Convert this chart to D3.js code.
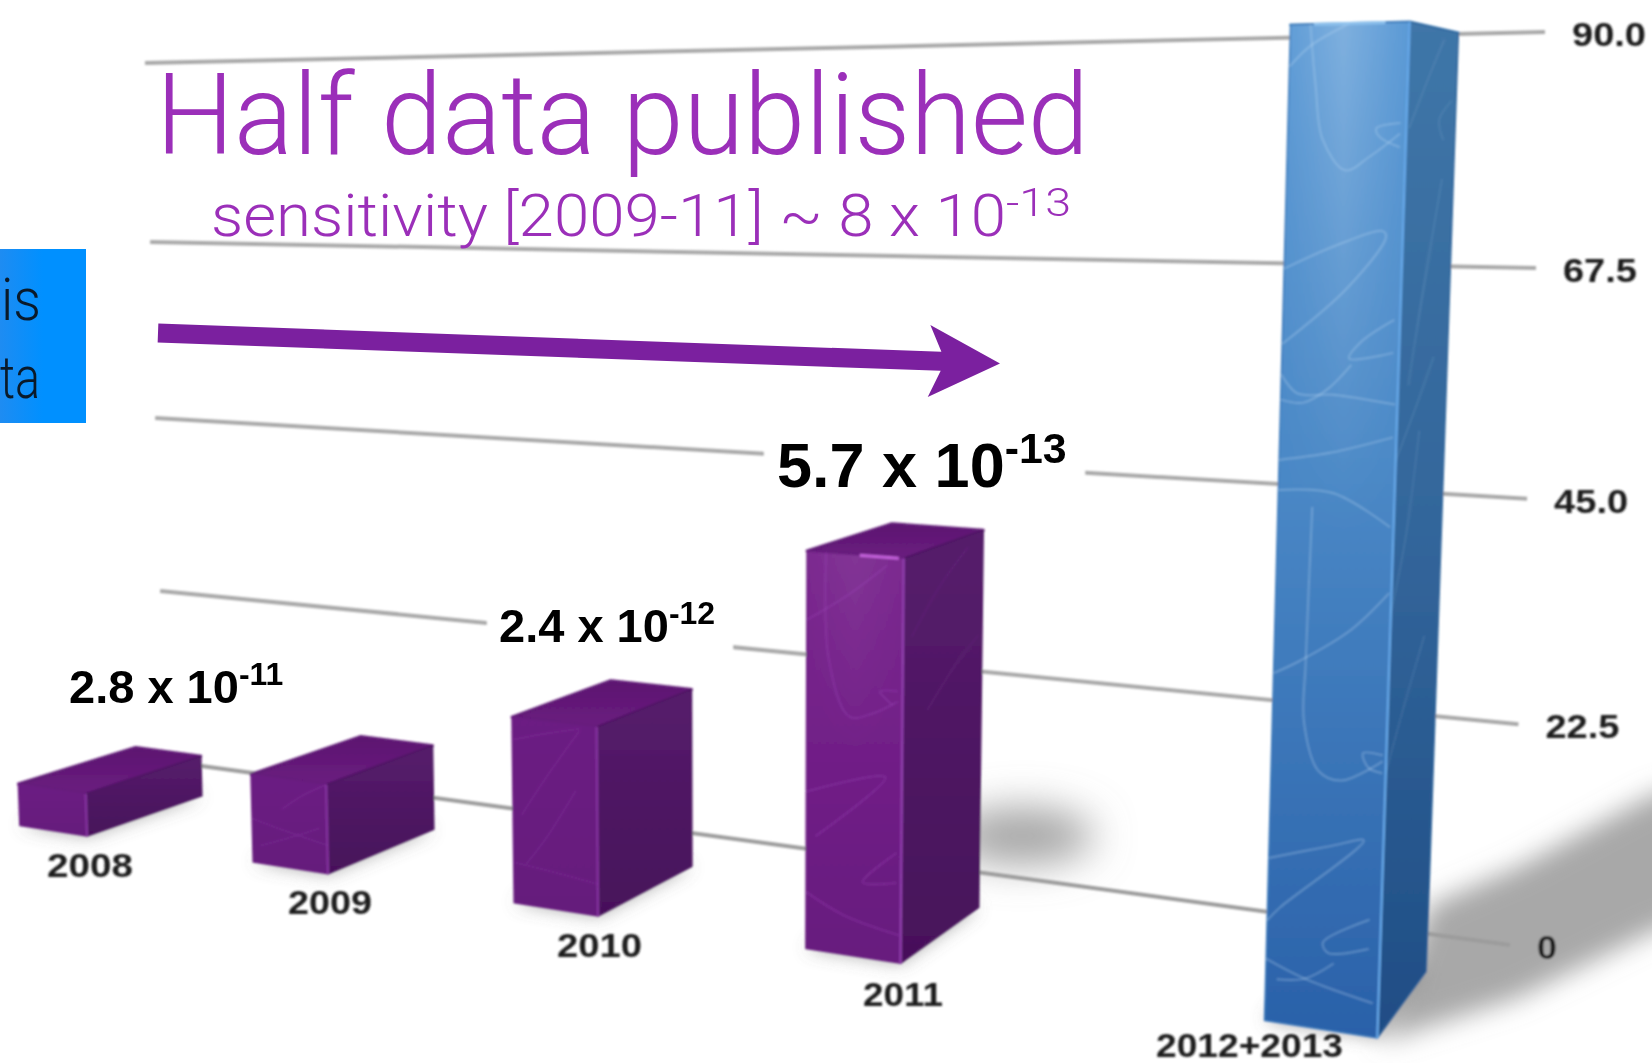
<!DOCTYPE html>
<html>
<head>
<meta charset="utf-8">
<title>Data published per year</title>
<script src="https://cdnjs.cloudflare.com/ajax/libs/d3/7.8.5/d3.min.js"></script>
<style>
  html, body { margin: 0; padding: 0; background: #fff; overflow: hidden; }
  svg { display: block; }
  text { font-family: "Liberation Sans", Arial, sans-serif; }
</style>
</head>
<body>
<svg id="chart" width="1652" height="1063"></svg>
<script>
// ---- chart values ----
const categories = ["2008", "2009", "2010", "2011", "2012+2013"];
const values = [5, 10, 20, 40, 89.5];
const yTicks = [0, 22.5, 45, 67.5, 90];
const yTickLabels = ["0", "22.5", "45.0", "67.5", "90.0"];
const sensitivityBase = ["2.8 x 10", "2.4 x 10", "5.7 x 10"];
const sensitivityExp = ["-11", "-12", "-13"];

// ---- scene geometry ----
const W = 1652, H = 1063;
// Back wall corners on screen: u runs along the wall, v up the value axis.
const wall = { bl: [165, 761], br: [1510, 945], tl: [145, 63], tr: [1545, 32] };
const depthVanish = [2024, 160];       // vanishing point of lines leaving the wall
const barHalfWidth = 0.03, depthNear = 0.089, depthFar = 0.033;

const yScale = d3.scaleLinear().domain([0, 90]).range([0, 1]);
const uScale = d3.scaleOrdinal().domain(categories).range([0.0634, 0.264, 0.465, 0.665, 0.9365]);
const barFill = d3.scaleOrdinal().domain(categories)
  .range(["purple", "purple", "purple", "purple", "blue"]);

// Projective map of the wall plane, extended with a depth column.
function buildProjection({ bl, br, tl, tr }) {
  const dx1 = br[0] - tr[0], dx2 = tl[0] - tr[0], sx = bl[0] - br[0] + tr[0] - tl[0];
  const dy1 = br[1] - tr[1], dy2 = tl[1] - tr[1], sy = bl[1] - br[1] + tr[1] - tl[1];
  const den = dx1 * dy2 - dx2 * dy1;
  const g = (sx * dy2 - dx2 * sy) / den;
  const h = (dx1 * sy - sx * dy1) / den;
  const a = br[0] - bl[0] + g * br[0], b = tl[0] - bl[0] + h * tl[0], c = bl[0];
  const d = br[1] - bl[1] + g * br[1], e = tl[1] - bl[1] + h * tl[1], f = bl[1];
  return (u, v, z = 0) => {
    const w = 1 + g * u + h * v - z;
    return [(a * u + b * v + c - depthVanish[0] * z) / w,
            (d * u + e * v + f - depthVanish[1] * z) / w];
  };
}
const project = buildProjection(wall);

const svg = d3.select("#chart");
const defs = svg.append("defs");

function blurFilter(id, dev) {
  defs.append("filter").attr("id", id)
    .attr("x", "-100%").attr("y", "-150%").attr("width", "300%").attr("height", "400%")
    .append("feGaussianBlur").attr("stdDeviation", dev);
}
defs.append("filter").attr("id", "soft")
  .attr("filterUnits", "userSpaceOnUse").attr("x", 0).attr("y", 0).attr("width", W).attr("height", H)
  .append("feGaussianBlur").attr("stdDeviation", 0.85);
blurFilter("halo", 9);
blurFilter("castWide", 13);
blurFilter("castOval", 20);

function linearGradient(id, horizontal, stops) {
  const g = defs.append("linearGradient").attr("id", id)
    .attr("x1", 0).attr("y1", 0)
    .attr("x2", horizontal ? 1 : 0).attr("y2", horizontal ? 0 : 1);
  stops.forEach(([o, c, a]) => g.append("stop").attr("offset", o)
    .attr("stop-color", c).attr("stop-opacity", a === undefined ? 1 : a));
}
linearGradient("blue-front", false, [[0, "#5b9ad6"], [0.45, "#4a88c6"], [1, "#2a61a9"]]);
linearGradient("blue-side", false, [[0, "#3f76a8"], [0.5, "#33669b"], [1, "#1f4d85"]]);
linearGradient("blue-top", false, [[0, "#3f78ad"], [1, "#5a9ad6"]]);
linearGradient("purple-front", false, [[0, "#6c1d83"], [1, "#651a7c"]]);
linearGradient("purple-front-tall", false, [[0, "#7c2a90"], [0.5, "#711f87"], [1, "#671a7e"]]);
linearGradient("purple-side", false, [[0, "#561d6c"], [1, "#47115a"]]);
linearGradient("purple-top", false, [[0, "#5c1870"], [1, "#6b1b80"]]);
linearGradient("sheen", true, [[0, "#fff", 0], [0.5, "#fff", 0.22], [1, "#fff", 0]]);
linearGradient("sheenFade", false, [[0, "#fff", 1], [1, "#fff", 0]]);
linearGradient("boxFill", true, [[0, "#1e8cf2"], [0.5, "#0090ff"], [1, "#0090ff"]]);
defs.append("mask").attr("id", "sheenMask").attr("maskContentUnits", "objectBoundingBox")
  .append("rect").attr("width", 1).attr("height", 1).attr("fill", "url(#sheenFade)");

const edgeGlow = { blue: "#6eb2f2", purple: "#9a48b8" };

// Faint scribbled texture on the bar faces, as [s across the face, t down the face].
const frontScribbles = {
  "2012+2013": [
    [[0, .04], [.18, .02], [.5, 0]],
    [[.17, 0], [.23, .06], [.3, .11], [.5, .14], [.7, .127], [.95, .105]],
    [[.95, .118], [.78, .108], [.75, .1], [.95, .095]],
    [[0, .236], [.43, .213], [.83, .198], [.86, .203], [.55, .253], [0, .31]],
    [[.95, .283], [.68, .305], [.58, .322], [.95, .315]],
    [[0, .34], [.14, .358], [.45, .358], [.98, .365]],
    [[0, .365], [.2, .367], [.4, .353], [.6, .328]],
    [[0, .425], [.45, .415], [.97, .397]],
    [[0, .455], [.48, .455], [.97, .485]],
    [[.3, .47], [.28, .626], [.28, .687], [.42, .735], [.62, .742], [.97, .718]],
    [[.97, .712], [.8, .712], [.85, .726], [.97, .73]],
    [[0, .64], [.23, .625], [.66, .59], [.98, .55]],
    [[0, .83], [.54, .81], [.83, .8], [.11, .88], [0, .895]],
    [[.9, .88], [.5, .91], [.55, .92], [.9, .91]],
    [[0, .935], [.35, .95], [.95, .965]],
    [[.1, .955], [.35, .95], [.6, .93]]
  ],
  "2011": [
    [[0, .17], [.43, .1], [.83, .02]],
    [[.2, 0], [.23, .26], [.45, .4], [.7, .385], [.95, .35]],
    [[.95, .325], [.77, .33], [.9, .36]],
    [[0, .6], [.83, .54], [.1, .71]],
    [[.95, .725], [.6, .81], [.95, .8]],
    [[0, .855], [.4, .9], [.98, .93]]
  ],
  "2010": [
    [[0, .12], [.45, .06], [.8, .02]],
    [[.8, .03], [.4, .3], [.1, .52]],
    [[0, .78], [.45, .8], [1, .83]],
    [[.75, .35], [.4, .62], [.15, .78]]
  ],
  "2009": [
    [[.4, .35], [.7, .15], [1, 0]],
    [[0, .5], [.4, .58], [1, .68]],
    [[.1, .8], [.6, .62], [.9, .5]]
  ]
};
const sideScribbles = {
  "2012+2013": [
    [[.05, .1], [.4, .05], [.7, .01]],
    [[.75, .11], [.65, .09], [.9, .07]],
    [[.3, .31], [.55, .22], [.75, .15], [.4, .27], [.2, .35]],
    [[.0, .42], [.4, .37], [.7, .33]],
    [[.0, .57], [.25, .5], [.45, .4]],
    [[.0, .73], [.3, .68], [.7, .62]]
  ],
  "2011": [[[.1, .2], [.45, .1], [.8, .03]], [[.3, .4], [.65, .32], [.95, .27]]]
};

const scribbleLine = d3.line().curve(d3.curveCatmullRom.alpha(0.5));

// Screen placement of the cast shadows and of the category captions.
const wideShadow = [[1380, 1042], [1430, 905], [1520, 866], [1652, 795], [1720, 775], [1720, 905], [1652, 932], [1517, 998]];
const ovalShadow = { cx: 1022, cy: 836, rx: 72, ry: 28 };
const captionAnchors = [[47, 877, 86], [288, 914, 84], [557, 957, 85], [863, 1006, 80], [1156, 1057, 187]];
const valueLabels = [
  { cat: "2008", x: 69, y: 703, size: 47, gap: null },
  { cat: "2010", x: 499, y: 642, size: 47, gap: [487, 612, 246, 50] },
  { cat: "2011", x: 777, y: 487, size: 63, gap: [764, 432, 321, 66] }
];

// ---- blue side panel at the left edge ----
const panel = svg.append("g");
panel.append("rect").attr("x", 0).attr("y", 249).attr("width", 86).attr("height", 174).attr("fill", "url(#boxFill)");
panel.append("text").attr("x", 1).attr("y", 320).attr("textLength", 40).attr("lengthAdjust", "spacingAndGlyphs")
  .attr("font-size", 60).attr("fill", "#0a1a2a").style("font-family", "Roboto").style("font-weight", 300).text("is");
panel.append("text").attr("x", 0).attr("y", 398).attr("textLength", 40).attr("lengthAdjust", "spacingAndGlyphs")
  .attr("font-size", 60).attr("fill", "#0a1a2a").style("font-family", "Roboto").style("font-weight", 300).text("ta");

// ---- the soft chart layer ----
const chart = svg.append("g").attr("filter", "url(#soft)");

chart.append("path").attr("d", d3.line()(wideShadow) + "Z").attr("fill", "#a8a8a8").attr("filter", "url(#castWide)");
chart.append("ellipse").attr("cx", ovalShadow.cx).attr("cy", ovalShadow.cy)
  .attr("rx", ovalShadow.rx).attr("ry", ovalShadow.ry).attr("fill", "#a2a2a2").attr("filter", "url(#castOval)");

// Gridlines, one per axis tick, running the length of the wall.
chart.append("g").selectAll("line").data(yTicks).join("line")
  .each(function (t) {
    const v = yScale(t), p0 = project(0, v), p1 = project(1, v);
    d3.select(this).attr("x1", p0[0]).attr("y1", p0[1]).attr("x2", p1[0]).attr("y2", p1[1]);
  })
  .attr("stroke", t => t === 0 ? "#9c9c9c" : "#a9a9a9").attr("stroke-width", 4);

chart.append("g").selectAll("text").data(yTicks).join("text")
  .each(function (t, i) {
    const p = project(1, yScale(t));
    d3.select(this).attr("x", p[0] + 27).attr("y", p[1] + 14)
      .attr("textLength", yTickLabels[i].length === 1 ? 20 : 74)
      .attr("lengthAdjust", "spacingAndGlyphs").text(yTickLabels[i]);
  })
  .attr("font-size", 34).attr("font-weight", 700).attr("fill", "#1e1e1e");

// White plates keep the gridlines away from the value labels.
chart.append("g").selectAll("rect").data(valueLabels.filter(d => d.gap)).join("rect")
  .attr("x", d => d.gap[0]).attr("y", d => d.gap[1]).attr("width", d => d.gap[2]).attr("height", d => d.gap[3])
  .attr("fill", "#fff");

// ---- bars ----
const poly = pts => d3.line()(pts) + "Z";
categories.forEach((cat, i) => {
  const family = barFill(cat);
  const tall = values[i] > 30;
  const vTop = yScale(values[i]);
  const u0 = uScale(cat) - barHalfWidth, u1 = uScale(cat) + barHalfWidth;
  const g = chart.append("g").attr("class", "bar");

  const footprint = [project(u0, 0, depthNear), project(u1, 0, depthNear), project(u1, 0, depthFar), project(u0, 0, depthFar)];
  g.append("path").attr("d", poly(footprint)).attr("fill", "#777").attr("opacity", 0.6).attr("filter", "url(#halo)");

  const frontPt = (s, t) => project(u0 + s * (u1 - u0), vTop * (1 - t), depthNear);
  const sidePt = (s, t) => project(u1, vTop * (1 - t), depthNear + s * (depthFar - depthNear));
  const topFace = [project(u0, vTop, depthNear), project(u1, vTop, depthNear), project(u1, vTop, depthFar), project(u0, vTop, depthFar)];
  const frontFace = [frontPt(0, 0), frontPt(1, 0), frontPt(1, 1), frontPt(0, 1)];
  const sideFace = [sidePt(0, 0), sidePt(1, 0), sidePt(1, 1), sidePt(0, 1)];

  g.append("path").attr("d", poly(topFace)).attr("fill", `url(#${family}-top)`)
    .attr("stroke", family === "blue" ? "#4a86bd" : "#601a76").attr("stroke-width", 3).attr("stroke-linejoin", "round");
  g.append("path").attr("d", poly(sideFace)).attr("fill", `url(#${family}-side)`)
    .attr("stroke", family === "blue" ? "#32669b" : "#4c1560").attr("stroke-width", 1.5).attr("stroke-linejoin", "round");
  const frontFill = family === "purple" && tall ? "purple-front-tall" : `${family}-front`;
  g.append("path").attr("d", poly(frontFace)).attr("fill", `url(#${frontFill})`)
    .attr("stroke", family === "blue" ? "#3f7cbc" : "#6b1c81").attr("stroke-width", 1.5).attr("stroke-linejoin", "round");

  if (tall) {
    const upper = [frontPt(0, 0), frontPt(1, 0), frontPt(1, 0.5), frontPt(0, 0.5)];
    g.append("g").attr("mask", "url(#sheenMask)").attr("opacity", family === "blue" ? 1 : 0.25)
      .append("path").attr("d", poly(upper)).attr("fill", "url(#sheen)");
  }

  const scribbleColor = family === "blue" ? "#bcdcf6" : "#a24cc0";
  g.append("g").selectAll("path").data(frontScribbles[cat] || []).join("path")
    .attr("d", pts => scribbleLine(pts.map(p => frontPt(p[0], p[1]))))
    .attr("fill", "none").attr("stroke", scribbleColor)
    .attr("stroke-width", 2).attr("stroke-opacity", family === "blue" ? 0.3 : (tall ? 0.3 : 0.16));
  g.append("g").selectAll("path").data(sideScribbles[cat] || []).join("path")
    .attr("d", pts => scribbleLine(pts.map(p => sidePt(p[0], p[1]))))
    .attr("fill", "none").attr("stroke", scribbleColor)
    .attr("stroke-width", 1.6).attr("stroke-opacity", 0.12);

  // Lit corner edge between the two visible faces, and the catch-light on the top edge.
  g.append("path").attr("d", d3.line()([frontPt(1, 0), frontPt(1, 1)]))
    .attr("stroke", edgeGlow[family]).attr("stroke-width", 2.2).attr("stroke-opacity", tall ? 0.85 : 0.6);
  if (tall) {
    const lit = family === "blue" ? [0.2, 0.8] : [0.55, 0.95];
    g.append("path").attr("d", d3.line()([frontPt(lit[0], 0), frontPt(lit[1], 0)]))
      .attr("stroke", family === "blue" ? "#9ccef6" : "#d870f0").attr("stroke-width", 3).attr("stroke-opacity", 0.8);
  }

  const cap = captionAnchors[i];
  chart.append("text").attr("x", cap[0]).attr("y", cap[1]).attr("textLength", cap[2])
    .attr("lengthAdjust", "spacingAndGlyphs")
    .attr("font-size", 34).attr("font-weight", 700).attr("fill", "#1e1e1e").text(cat);
});

// ---- value labels ----
const valueText = svg.append("g").selectAll("text").data(valueLabels).join("text")
  .attr("x", d => d.x).attr("y", d => d.y)
  .attr("font-size", d => d.size).attr("font-weight", 700).attr("fill", "#000");
valueText.append("tspan").text((d, i) => sensitivityBase[i]);
valueText.append("tspan").attr("dy", d => -d.size * 0.38).attr("font-size", d => d.size * 0.68)
  .text((d, i) => sensitivityExp[i]);

// ---- headline ----
const purple = "#9b2fb9";
svg.append("text").attr("x", 156).attr("y", 154).attr("font-size", 113)
  .attr("textLength", 933).attr("lengthAdjust", "spacingAndGlyphs")
  .style("font-family", "Roboto").style("font-weight", 300).attr("fill", purple)
  .text("Half data published");
svg.append("text").attr("x", 211).attr("y", 236).attr("font-size", 60)
  .attr("textLength", 795).attr("lengthAdjust", "spacingAndGlyphs")
  .style("font-family", "Roboto").style("font-weight", 300).attr("fill", purple)
  .text("sensitivity [2009-11] ~ 8 x 10");
svg.append("text").attr("x", 1006).attr("y", 216).attr("font-size", 39)
  .attr("textLength", 65).attr("lengthAdjust", "spacingAndGlyphs")
  .style("font-family", "Roboto").style("font-weight", 300).attr("fill", purple)
  .text("-13");

// ---- trend arrow with swept-back barbs ----
function arrowOutline([x0, y0], [x1, y1], shaft, headLen, headHalf, sweep) {
  const len = Math.hypot(x1 - x0, y1 - y0), ux = (x1 - x0) / len, uy = (y1 - y0) / len;
  const at = (along, across) => [x0 + ux * along - uy * across, y0 + uy * along + ux * across];
  const neck = len - headLen + sweep;
  const barb = len - headLen;
  return [at(0, -shaft / 2), at(neck, -shaft / 2), at(barb, -headHalf), at(len, 0),
          at(barb, headHalf), at(neck, shaft / 2), at(0, shaft / 2)];
}
svg.append("path")
  .attr("d", poly(arrowOutline([158, 333], [1000, 363.5], 19, 71, 36, 12)))
  .attr("fill", "#7b209f");
</script>
</body>
</html>
